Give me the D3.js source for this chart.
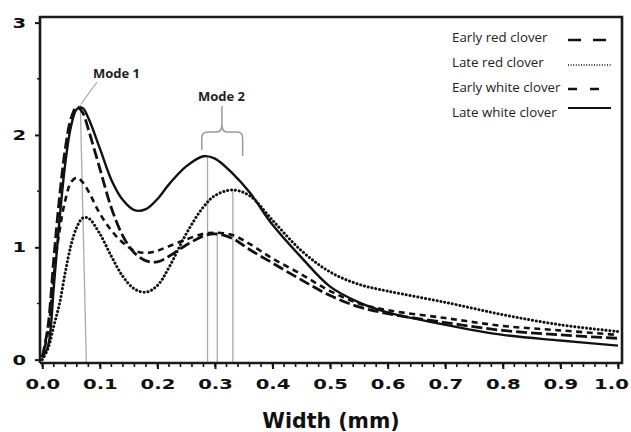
<!DOCTYPE html>
<html>
<head>
<meta charset="utf-8">
<script src="https://cdn.jsdelivr.net/npm/d3@7"></script>
<style>
  body { margin: 0; background: #fff; }
  .tick text { font-family: "DejaVu Sans", sans-serif; font-weight: bold; fill: #111; }
  .legend text { font-family: "Open Sans", sans-serif; font-size: 13.3px; fill: #222; }
  .mode { font-family: "Open Sans", sans-serif; font-weight: bold; font-size: 13px; fill: #222; }
</style>
</head>
<body>
<script>
// widths (mm) where the curves were read
var widths = [0, 0.01, 0.02, 0.03, 0.04, 0.05, 0.06, 0.07, 0.08, 0.10, 0.12, 0.14, 0.16, 0.18, 0.20,
              0.22, 0.25, 0.28, 0.30, 0.33, 0.36, 0.40, 0.45, 0.50, 0.55, 0.60, 0.70, 0.80, 0.90, 1.00];

var earlyRed   = [0.02, 0.30, 0.90, 1.45, 1.88, 2.15, 2.25, 2.20, 2.05, 1.70, 1.35, 1.10, 0.95, 0.88, 0.87,
                  0.92, 1.02, 1.10, 1.12, 1.08, 0.98, 0.86, 0.71, 0.57, 0.47, 0.41, 0.33, 0.26, 0.22, 0.19];
var lateRed    = [0.00, 0.10, 0.30, 0.50, 0.78, 1.02, 1.18, 1.26, 1.26, 1.12, 0.92, 0.74, 0.63, 0.60, 0.66,
                  0.82, 1.12, 1.36, 1.46, 1.51, 1.46, 1.24, 0.97, 0.78, 0.67, 0.61, 0.51, 0.40, 0.31, 0.25];
var earlyWhite = [0.02, 0.25, 0.75, 1.15, 1.42, 1.58, 1.62, 1.58, 1.50, 1.30, 1.15, 1.04, 0.97, 0.95, 0.97,
                  1.01, 1.07, 1.12, 1.13, 1.11, 1.03, 0.90, 0.76, 0.61, 0.50, 0.44, 0.37, 0.30, 0.26, 0.22];
var lateWhite  = [0.02, 0.12, 0.65, 1.25, 1.75, 2.08, 2.23, 2.24, 2.15, 1.88, 1.60, 1.42, 1.33, 1.34, 1.43,
                  1.56, 1.72, 1.81, 1.79, 1.66, 1.49, 1.20, 0.91, 0.65, 0.51, 0.42, 0.31, 0.22, 0.17, 0.125];

var seriesNames = ["Early red clover", "Late red clover", "Early white clover", "Late white clover"];
var seriesData = [earlyRed, lateRed, earlyWhite, lateWhite];

var xTicks = [0, 0.1, 0.2, 0.3, 0.4, 0.5, 0.6, 0.7, 0.8, 0.9, 1.0];
var yTicks = [0, 1, 2, 3];

// mode markers: [x top, y top, x bottom]
var mode1Line = [0.066, 2.27, 0.0765];
var mode2Lines = [[0.287, 1.81], [0.304, 1.13], [0.331, 1.51]];

var w = 631, h = 432;

window.onload = function(){

    var svg = d3.select("body")
        .append("svg")
        .attr("width", w)
        .attr("height", h);

    var x = d3.scaleLinear()
        .domain([-0.004, 1.007])
        .range([40, 622]);

    var y = d3.scaleLinear()
        .domain([-0.03, 3.05])
        .range([363, 17]);

    // line styles per series
    var dashes = ["11,4", "0.1,3.8", "6,4.5", null];
    var caps = ["butt", "round", "butt", "butt"];
    var widthsPx = [2.8, 3.0, 2.6, 2.4];

    // gray mode lines (under curves)
    var grey = "#aaa";
    svg.append("line")
        .attr("x1", x(mode1Line[0])).attr("y1", y(mode1Line[1]))
        .attr("x2", x(mode1Line[2])).attr("y2", 363)
        .style("stroke", grey).style("stroke-width", 1.3);
    // leader to label
    svg.append("line")
        .attr("x1", x(mode1Line[0]) + 1).attr("y1", y(mode1Line[1]) - 1)
        .attr("x2", 97).attr("y2", 82)
        .style("stroke", grey).style("stroke-width", 1.2);

    svg.selectAll(".m2")
        .data(mode2Lines)
        .enter()
        .append("line")
        .attr("class", "m2")
        .attr("x1", function(d){ return x(d[0]); })
        .attr("x2", function(d){ return x(d[0]); })
        .attr("y1", function(d){ return y(d[1]); })
        .attr("y2", 363)
        .style("stroke", grey).style("stroke-width", 1.3);

    // brace over mode 2
    var bl = x(0.277), br = x(0.348), bc = x(0.312);
    svg.append("path")
        .attr("d", "M" + bl + ",150 L" + bl + ",138 Q" + bl + ",132 " + (bl + 6) + ",132"
            + " L" + (bc - 5) + ",132 Q" + bc + ",132 " + bc + ",124 L" + bc + ",106"
            + " M" + bc + ",124 Q" + bc + ",132 " + (bc + 5) + ",132"
            + " L" + (br - 6) + ",132 Q" + br + ",132 " + br + ",138 L" + br + ",156")
        .style("fill", "none")
        .style("stroke", "#999")
        .style("stroke-width", 1.5);

    // curves
    var line = d3.line()
        .x(function(d){ return x(d[0]); })
        .y(function(d){ return y(d[1]); })
        .curve(d3.curveCatmullRom.alpha(0.5));

    svg.selectAll(".curve")
        .data(seriesData)
        .enter()
        .append("path")
        .attr("class", "curve")
        .attr("d", function(d){
            return line(widths.map(function(wd, i){ return [wd, d[i]]; }));
        })
        .style("fill", "none")
        .style("stroke", "#111")
        .style("stroke-width", function(d, i){ return widthsPx[i]; })
        .style("stroke-linecap", function(d, i){ return caps[i]; })
        .style("stroke-dasharray", function(d, i){ return dashes[i]; });

    // axes
    var xAxis = d3.axisBottom(x)
        .tickValues(xTicks)
        .tickSize(6)
        .tickPadding(10)
        .tickFormat(d3.format(".1f"));

    var gx = svg.append("g")
        .attr("transform", "translate(0,363)")
        .call(xAxis);
    gx.select(".domain").remove();
    gx.selectAll("line").style("stroke", "#111").style("stroke-width", 2);
    gx.selectAll("text")
        .style("font-size", "14px")
        .attr("x", function(d){ return d === 1 ? -5 : 0; })
        .attr("transform", "scale(1.4,1)");

    // minor x ticks
    gx.selectAll(".minor")
        .data(d3.range(0, 51).map(function(i){ return i * 0.02; }))
        .enter()
        .append("line")
        .attr("class", "minor")
        .attr("x1", function(d){ return x(d); })
        .attr("x2", function(d){ return x(d); })
        .attr("y1", 0)
        .attr("y2", 4)
        .style("stroke", "#111")
        .style("stroke-width", 1.6);

    var yAxis = d3.axisLeft(y)
        .tickValues(yTicks)
        .tickSize(5)
        .tickPadding(8)
        .tickFormat(d3.format("d"));

    var gy = svg.append("g")
        .attr("transform", "translate(40,0)")
        .call(yAxis);
    gy.select(".domain").remove();
    gy.selectAll("line").style("stroke", "#111").style("stroke-width", 2);
    gy.selectAll("text")
        .style("font-size", "14px")
        .attr("transform", "scale(1.4,1)")
        .attr("x", -14 / 1.4);

    gy.selectAll(".minor")
        .data([0.5, 1.5, 2.5])
        .enter()
        .append("line")
        .attr("class", "minor")
        .attr("x1", -3)
        .attr("x2", 0)
        .attr("y1", function(d){ return y(d); })
        .attr("y2", function(d){ return y(d); })
        .style("stroke", "#111")
        .style("stroke-width", 1.4);

    // frame
    svg.append("path")
        .attr("d", "M40,363 L40,17 L622,17 L622,363 L40,363")
        .style("fill", "none")
        .style("stroke", "#1a1a1a")
        .style("stroke-width", 2.6);

    // axis title
    svg.append("text")
        .attr("x", 331)
        .attr("y", 428)
        .attr("text-anchor", "middle")
        .style("font-family", "DejaVu Sans, sans-serif")
        .style("font-weight", "bold")
        .style("font-size", "20.5px")
        .style("fill", "#111")
        .text("Width (mm)");

    // mode labels
    svg.append("text").attr("class", "mode")
        .attr("x", 93).attr("y", 78).text("Mode 1");
    svg.append("text").attr("class", "mode")
        .attr("x", 198).attr("y", 101).text("Mode 2");

    // legend
    var legDash = ["13,12", "1,1.6", "9,13", null];
    var legWidth = [2.6, 1.6, 2.4, 2.2];
    var legLineY = [40, 65, 89, 108];
    var legend = svg.append("g").attr("class", "legend");

    legend.selectAll("text")
        .data(seriesNames)
        .enter()
        .append("text")
        .attr("x", 452)
        .attr("y", function(d, i){ return 42 + i * 25; })
        .text(function(d){ return d; });

    legend.selectAll("line")
        .data(seriesNames)
        .enter()
        .append("line")
        .attr("x1", 568)
        .attr("x2", 611)
        .attr("y1", function(d, i){ return legLineY[i]; })
        .attr("y2", function(d, i){ return legLineY[i]; })
        .style("stroke", "#111")
        .style("stroke-width", function(d, i){ return legWidth[i]; })
        .style("stroke-dasharray", function(d, i){ return legDash[i]; });
};
</script>
</body>
</html>
